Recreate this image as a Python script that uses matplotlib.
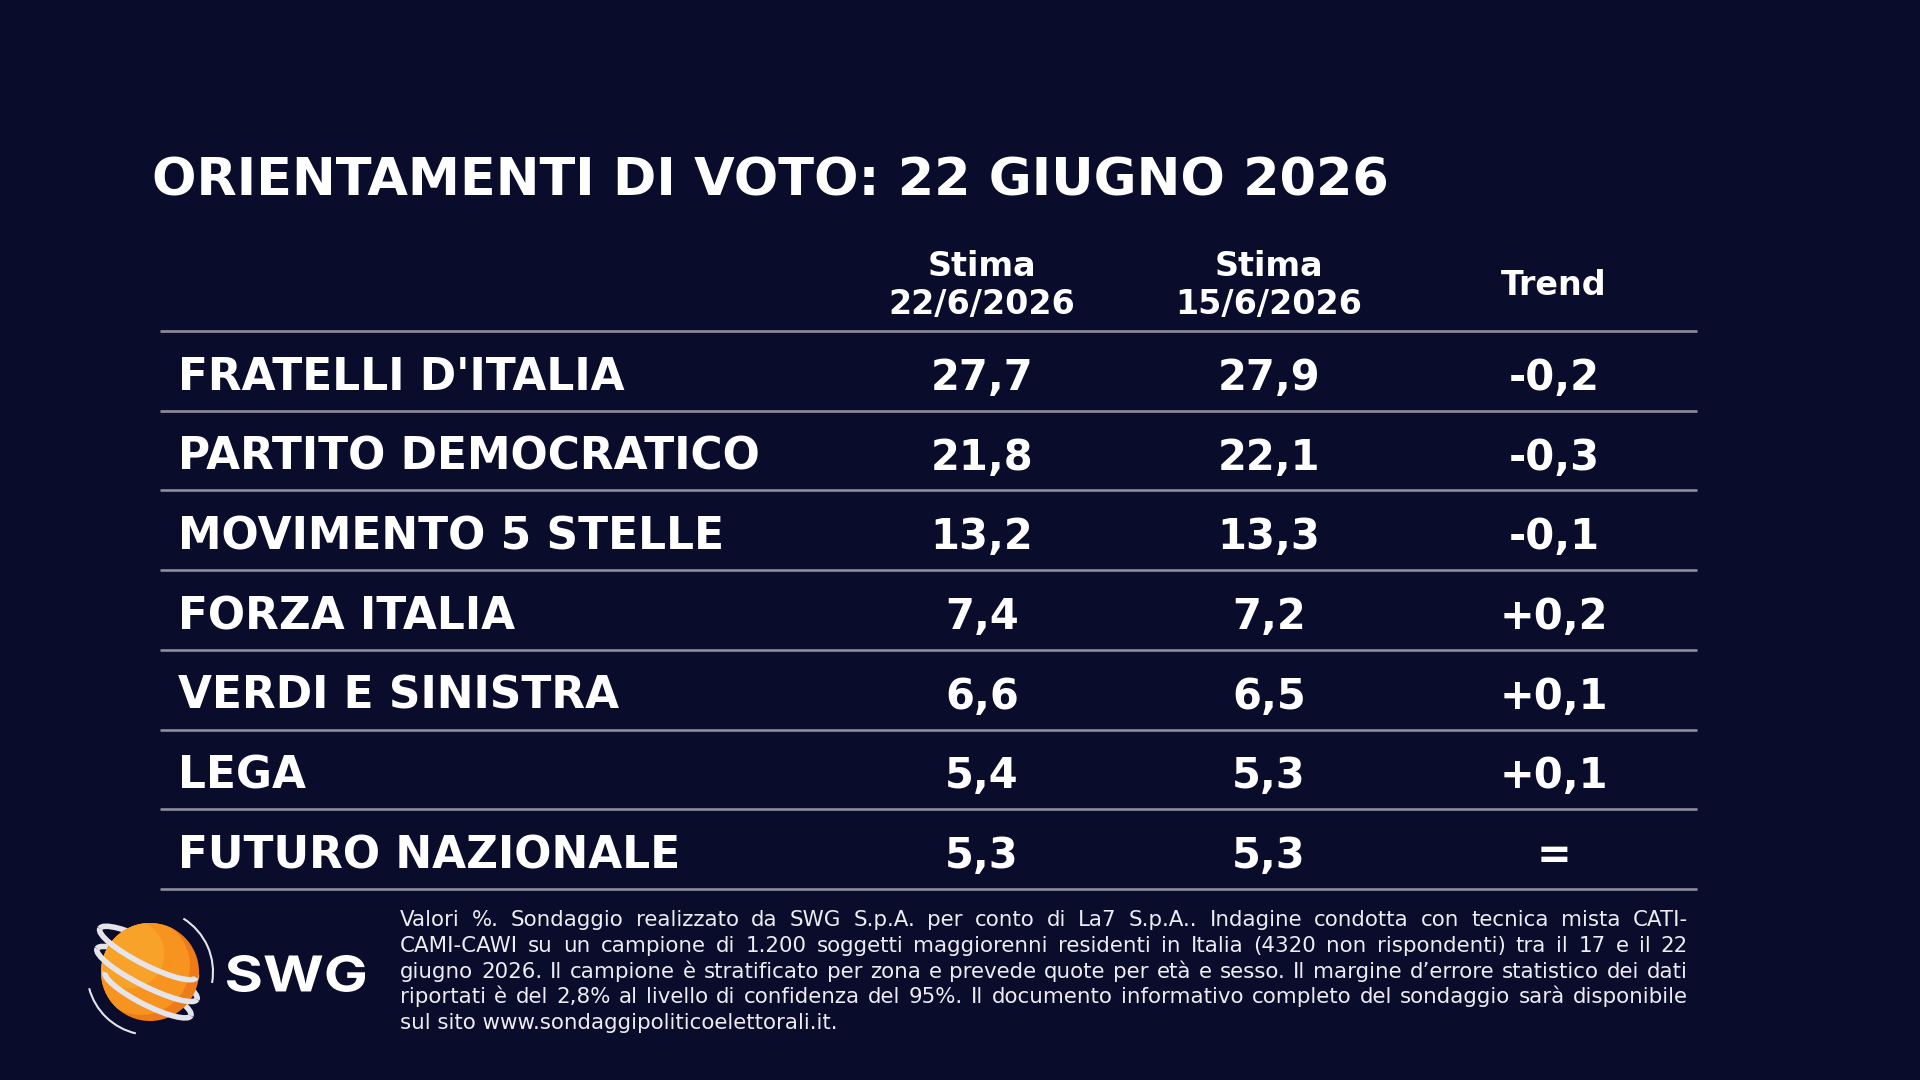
import matplotlib
matplotlib.use('Agg')
import matplotlib.pyplot as plt
from matplotlib.patches import Circle, Arc, PathPatch
from matplotlib.textpath import TextPath
from matplotlib.font_manager import FontProperties
from matplotlib.transforms import Affine2D

# ---------------- data ----------------
TITLE = "ORIENTAMENTI DI VOTO: 22 GIUGNO 2026"
col_headers = [["Stima", "22/6/2026"], ["Stima", "15/6/2026"], ["Trend"]]
parties = ["FRATELLI D'ITALIA", "PARTITO DEMOCRATICO", "MOVIMENTO 5 STELLE",
           "FORZA ITALIA", "VERDI E SINISTRA", "LEGA", "FUTURO NAZIONALE"]
stima_22 = [27.7, 21.8, 13.2, 7.4, 6.6, 5.4, 5.3]
stima_15 = [27.9, 22.1, 13.3, 7.2, 6.5, 5.3, 5.3]
footnote_lines = [
    "Valori %. Sondaggio realizzato da SWG S.p.A. per conto di La7 S.p.A.. Indagine condotta con tecnica mista CATI-",
    "CAMI-CAWI su un campione di 1.200 soggetti maggiorenni residenti in Italia (4320 non rispondenti) tra il 17 e il 22",
    "giugno 2026. Il campione è stratificato per zona e prevede quote per età e sesso. Il margine d’errore statistico dei dati",
    "riportati è del 2,8% al livello di confidenza del 95%. Il documento informativo completo del sondaggio sarà disponibile",
    "sul sito www.sondaggipoliticoelettorali.it.",
]
logo_text = "SWG"

# ---------------- style ----------------
BG = '#0a0c2b'
LINE = '#8d8d9b'
WHITE = '#ffffff'
FONT = 'DejaVu Sans'
FOOT_COL = '#ececf2'


def fmt(v):
    return f"{v:.1f}".replace('.', ',')


def fmt_trend(a, b):
    d = round(a - b, 1)
    if d == 0:
        return '='
    return f"{d:+.1f}".replace('.', ',')


fig = plt.figure(figsize=(19.2, 10.8), dpi=100, facecolor=BG)
ax = fig.add_axes([0, 0, 1, 1])
ax.set_xlim(0, 1920)
ax.set_ylim(1080, 0)
ax.axis('off')
ax.set_facecolor(BG)
renderer = fig.canvas.get_renderer()

# title
ax.text(152, 195, TITLE, fontsize=37.7, fontweight='bold', color=WHITE,
        family=FONT, va='baseline', ha='left')

# columns
col_x = [982, 1269, 1554]
HS = 24
for cx, hdr in zip(col_x, col_headers):
    if len(hdr) == 2:
        ax.text(cx, 276, hdr[0], fontsize=HS, fontweight='bold', color=WHITE,
                family=FONT, ha='center', va='baseline')
        ax.text(cx, 314, hdr[1], fontsize=HS, fontweight='bold', color=WHITE,
                family=FONT, ha='center', va='baseline')
    else:
        ax.text(cx, 295, hdr[0], fontsize=HS, fontweight='bold', color=WHITE,
                family=FONT, ha='center', va='baseline')

# table rows
line_top = 331
row_h = 79.7
for k in range(len(parties) + 1):
    y = line_top + k * row_h
    ax.plot([160, 1697], [y, y], color=LINE, lw=1.9, solid_capstyle='butt')

for i, (p, a, b) in enumerate(zip(parties, stima_22, stima_15)):
    yb = line_top + i * row_h + 59
    ax.text(178, yb, p, fontsize=31.6, fontweight='bold', color=WHITE,
            family=FONT, ha='left', va='baseline')
    for cx, s in zip(col_x, [fmt(a), fmt(b), fmt_trend(a, b)]):
        ax.text(cx, yb, s, fontsize=30, fontweight='bold', color=WHITE,
                family=FONT, ha='center', va='baseline')

# footnote (justified)
fx0, fx1 = 400, 1688
fy0, fdy = 926, 25.8
probe_w = []
for line in footnote_lines[:-1]:
    t = ax.text(0, 0, line, fontsize=10, family=FONT)
    probe_w.append(t.get_window_extent(renderer=renderer).width)
    t.remove()
fsize = 10 * (fx1 - fx0) / max(probe_w) * 0.985

for j, line in enumerate(footnote_lines):
    yb = fy0 + j * fdy
    words = line.split(' ')
    if j == len(footnote_lines) - 1:
        ax.text(fx0, yb, line, fontsize=fsize, color=FOOT_COL, family=FONT,
                ha='left', va='baseline')
        continue
    texts, widths = [], []
    for w in words:
        t = ax.text(0, yb, w, fontsize=fsize, color=FOOT_COL, family=FONT,
                    ha='left', va='baseline')
        texts.append(t)
        widths.append(t.get_window_extent(renderer=renderer).width)
    gap = (fx1 - fx0 - sum(widths)) / (len(words) - 1)
    x = fx0
    for t, wd in zip(texts, widths):
        t.set_x(x)
        x += wd + gap

# ---------------- logo ----------------
cx, cy, r = 150, 972, 49
ring_col = '#e4e4ea'
rings = [((148, 953), 54, 12), ((147, 974), 56, 12), ((148, 994), 48, 11)]
ring_angle = 27
for (c, a, b) in rings:
    ax.add_patch(Arc(c, 2 * a, 2 * b, angle=ring_angle, theta1=180, theta2=360,
                     color=ring_col, lw=4.0, zorder=3))
base = Circle((cx, cy), r, facecolor='#ee7a18', edgecolor='none', zorder=4)
ax.add_patch(base)
light = Circle((cx - 9, cy - 6), r, facecolor='#f7941f', edgecolor='none', zorder=5)
ax.add_patch(light)
light.set_clip_path(base)
hi = Circle((cx - 20, cy - 18), r * 0.7, facecolor='#f9a229', edgecolor='none', zorder=5.5)
ax.add_patch(hi)
hi.set_clip_path(base)
for (c, a, b) in rings:
    ax.add_patch(Arc(c, 2 * a, 2 * b, angle=ring_angle, theta1=0, theta2=180,
                     color=ring_col, lw=4.0, zorder=6))
ax.add_patch(Arc((cx, cy), 126, 126, angle=0, theta1=-58, theta2=10,
                 color=ring_col, lw=1.5, zorder=6))
ax.add_patch(Arc((cx, cy), 126, 126, angle=0, theta1=103, theta2=165,
                 color=ring_col, lw=1.5, zorder=6))

fp = FontProperties(family='Inter', weight='bold')
tp = TextPath((0, 0), logo_text, size=1, prop=fp)
ext = tp.get_extents()
bx0, bx1, by_top, by_bot = 227, 365, 955, 992
sx = (bx1 - bx0) / ext.width
sy = (by_bot - by_top) / ext.height
tr = Affine2D().translate(-ext.x0, -ext.y0).scale(sx, -sy).translate(bx0, by_bot)
ax.add_patch(PathPatch(tr.transform_path(tp), facecolor=WHITE, edgecolor='none', zorder=6))

fig.savefig('out.png', dpi=100, facecolor=BG)
